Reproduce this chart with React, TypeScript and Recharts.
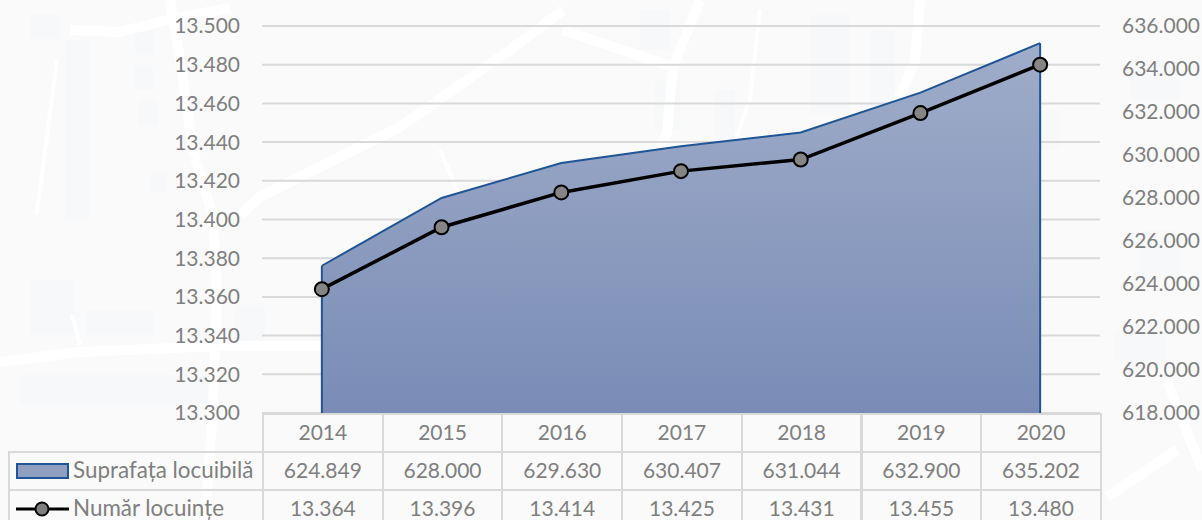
import { Area, CartesianGrid, ComposedChart, Line, ReferenceLine, XAxis, YAxis } from "recharts";

const years = ["2014", "2015", "2016", "2017", "2018", "2019", "2020"];
const suprafata = [624849, 628000, 629630, 630407, 631044, 632900, 635202];
const locuinte = [13364, 13396, 13414, 13425, 13431, 13455, 13480];
const leftTicks = [13300, 13320, 13340, 13360, 13380, 13400, 13420, 13440, 13460, 13480, 13500];
const rightTicks = [618000, 620000, 622000, 624000, 626000, 628000, 630000, 632000, 634000, 636000];

const data = years.map((year, i) => ({ year, suprafata: suprafata[i], locuinte: locuinte[i] }));

const FONT = "Lato, 'Open Sans', sans-serif";
const TEXT = "#7f7f7f";
const BORDER = "#d9d9d9";
const AREA_LINE = "#1f5596";

// faint street map behind the chart, hand traced
const roads = [
  "M170 0 L177 40 L193 150 L213 217 L217 293 L213 407 L205 520",
  "M0 362 L80 352 L220 346 L320 346 L345 358 L420 372",
  "M70 30 L120 32 L167 20 L230 8",
  "M240 215 L260 197 L400 127 L510 50 L563 10",
  "M563 30 L673 67 L700 0",
  "M673 67 L667 133 L640 190",
  "M920 0 L915 60 L890 120",
  "M1167 380 L1193 447 L1202 470",
  "M1107 497 L1177 450",
];
const thinRoads = [
  "M57 60 L40 190 L36 215",
  "M760 10 L750 100 L735 140",
  "M72 315 L80 345",
  "M440 150 L470 220",
];
const blocks = [
  [30, 14, 30, 25],
  [135, 30, 20, 25],
  [133, 65, 20, 25],
  [138, 100, 20, 25],
  [150, 172, 17, 20],
  [65, 40, 25, 180],
  [30, 280, 45, 55],
  [85, 310, 70, 25],
  [235, 305, 30, 35],
  [20, 375, 200, 30],
  [640, 10, 30, 40],
  [655, 80, 25, 50],
  [715, 90, 20, 50],
  [810, 15, 40, 100],
  [870, 30, 25, 90],
  [1000, 110, 60, 40],
  [1130, 60, 50, 40],
  [1140, 230, 40, 50],
  [1115, 330, 50, 30],
];

const fmt = (v: number) => v.toLocaleString("en-US").replace(/,/g, ".");

function Backdrop() {
  return (
    <svg width={1202} height={520} style={{ position: "absolute", left: 0, top: 0 }}>
      {blocks.map(([x, y, w, h], i) => (
        <rect key={i} x={x} y={y} width={w} height={h} rx={3} fill="#f7f8f9" />
      ))}
      {roads.map((d, i) => (
        <path key={i} d={d} fill="none" stroke="#fff" strokeWidth={10} strokeLinejoin="round" />
      ))}
      {thinRoads.map((d, i) => (
        <path key={i} d={d} fill="none" stroke="#fff" strokeWidth={4} strokeLinejoin="round" />
      ))}
    </svg>
  );
}

function Cell({ left, top, width, height, children }: any) {
  return (
    <div
      style={{
        position: "absolute",
        left,
        top,
        width,
        height,
        boxSizing: "border-box",
        border: `2px solid ${BORDER}`,
        paddingBottom: 3,
        display: "flex",
        alignItems: "center",
        justifyContent: "center",
        color: TEXT,
        fontSize: 21,
        whiteSpace: "nowrap",
      }}
    >
      {children}
    </div>
  );
}

function DataTable() {
  const x0 = 262;
  const w = 119.7;
  const rows = [
    { label: "Suprafața locuibilă", values: suprafata, top: 451 },
    { label: "Număr locuințe", values: locuinte, top: 489 },
  ];
  return (
    <>
      {years.map((y, i) => (
        <Cell key={y} left={x0 + i * w} top={413} width={w + 2} height={40}>
          {y}
        </Cell>
      ))}
      <Cell left={8} top={451} width={256} height={40}>
        <span style={{ display: "flex", alignItems: "center", width: "100%", paddingLeft: 6, fontSize: 22.4 }}>
          <svg width={53} height={16} style={{ marginRight: 4, marginTop: 3 }}>
            <rect x={1} y={1} width={51} height={14} fill="#8f9fc0" stroke={AREA_LINE} strokeWidth={2} />
          </svg>
          Suprafața locuibilă
        </span>
      </Cell>
      <Cell left={8} top={489} width={256} height={40}>
        <span style={{ display: "flex", alignItems: "center", width: "100%", paddingLeft: 6, fontSize: 22.4 }}>
          <svg width={53} height={16} style={{ marginRight: 4, marginTop: 3 }}>
            <line x1={0} y1={8} x2={53} y2={8} stroke="#000" strokeWidth={3} />
            <circle cx={26} cy={8} r={6.5} fill={TEXT} stroke="#000" strokeWidth={2} />
          </svg>
          Număr locuințe
        </span>
      </Cell>
      {rows.map((r) =>
        r.values.map((v, i) => (
          <Cell key={r.label + i} left={x0 + i * w} top={r.top} width={w + 2} height={40}>
            {fmt(v)}
          </Cell>
        )),
      )}
    </>
  );
}

export default function App() {
  const first = 0;
  const last = years.length - 1;
  return (
    <div
      style={{
        position: "fixed",
        left: 0,
        top: 0,
        width: 1202,
        height: 520,
        overflow: "hidden",
        background: "#fafafa",
        fontFamily: FONT,
      }}
    >
      <Backdrop />
      <ComposedChart
        width={1202}
        height={520}
        data={data}
        margin={{ top: 26, right: 0, bottom: 107, left: 162 }}
        style={{ position: "absolute", left: 0, top: 0 }}
      >
        <defs>
          <linearGradient id="areaFill" x1="0" y1="0" x2="0" y2="1">
            <stop offset="0%" stopColor="#9fadc9" />
            <stop offset="100%" stopColor="#7a8cb6" />
          </linearGradient>
        </defs>
        <CartesianGrid yAxisId="left" vertical={false} stroke={BORDER} strokeWidth={2} />
        <XAxis dataKey="year" scale="band" hide />
        <YAxis
          yAxisId="left"
          width={100}
          domain={[13300, 13500]}
          ticks={leftTicks}
          interval={0}
          tickFormatter={fmt}
          axisLine={false}
          tickLine={false}
          tickMargin={16}
          tick={{ fill: TEXT, fontSize: 21 }}
        />
        <YAxis
          yAxisId="right"
          orientation="right"
          width={102}
          domain={[618000, 636000]}
          ticks={rightTicks}
          interval={0}
          tickFormatter={fmt}
          axisLine={false}
          tickLine={false}
          tickMargin={16}
          tick={{ fill: TEXT, fontSize: 21 }}
        />
        <Area
          yAxisId="right"
          dataKey="suprafata"
          type="linear"
          stroke={AREA_LINE}
          strokeWidth={2}
          fill="url(#areaFill)"
          fillOpacity={1}
          isAnimationActive={false}
        />
        <ReferenceLine
          yAxisId="right"
          segment={[
            { x: years[first], y: 618000 },
            { x: years[first], y: suprafata[first] },
          ]}
          stroke={AREA_LINE}
          strokeWidth={2}
        />
        <ReferenceLine
          yAxisId="right"
          segment={[
            { x: years[last], y: 618000 },
            { x: years[last], y: suprafata[last] },
          ]}
          stroke={AREA_LINE}
          strokeWidth={2}
        />
        <Line
          yAxisId="left"
          dataKey="locuinte"
          type="linear"
          stroke="#000"
          strokeWidth={3.5}
          dot={{ r: 7, fill: "#858585", stroke: "#000", strokeWidth: 2 }}
          isAnimationActive={false}
        />
      </ComposedChart>
      <DataTable />
    </div>
  );
}
